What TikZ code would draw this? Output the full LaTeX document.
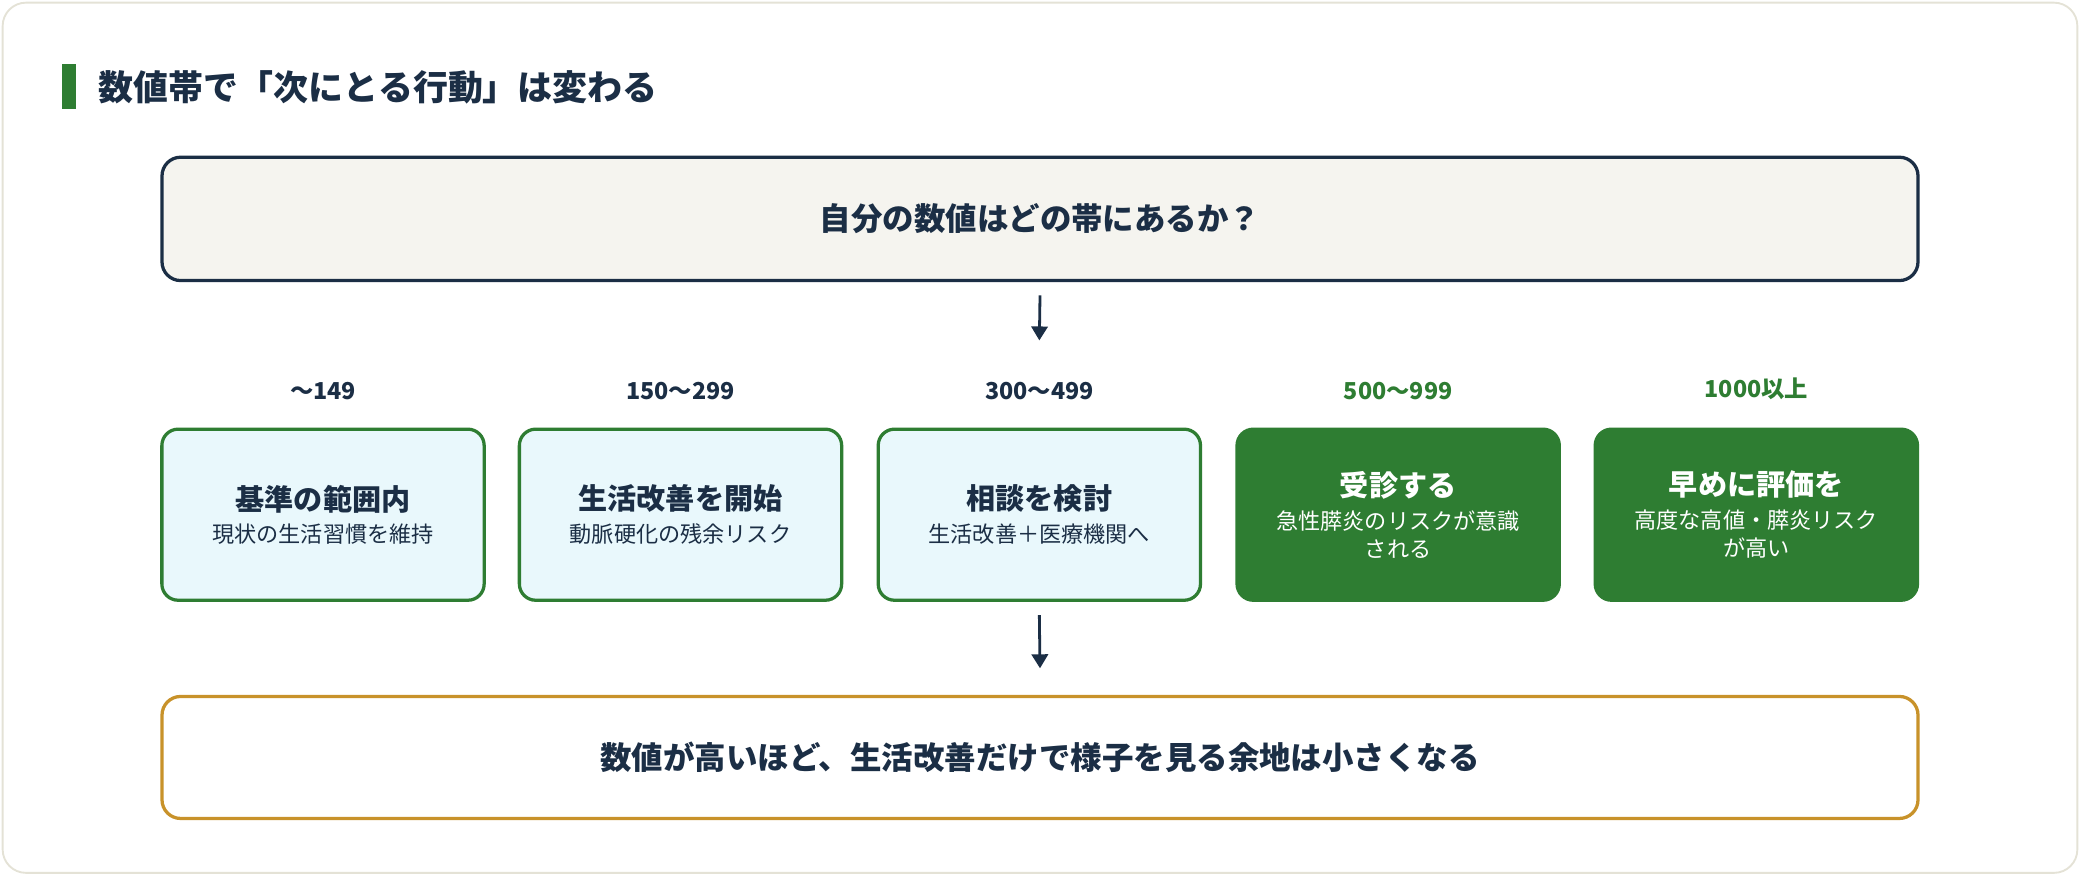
\documentclass[tikz,border=0pt]{standalone}
\usepackage{fontspec}
\setmainfont{Noto Sans CJK JP}
\usetikzlibrary{positioning, arrows.meta}
\definecolor{navy}{HTML}{1B2E45}
\definecolor{leaf}{HTML}{2E7D32}
\definecolor{ice}{HTML}{E9F8FC}
\definecolor{paper}{HTML}{F5F4EF}
\definecolor{gold}{HTML}{C8922A}
\definecolor{rim}{HTML}{E4E2D6}
\begin{document}
\begin{tikzpicture}[
    x=0.02cm, y=-0.02cm,
    band/.style={rectangle, draw=leaf, line width=1.4pt, fill=ice, rounded corners=7pt, minimum width=4.86cm, minimum height=2.58cm, text=navy, align=center, inner sep=2pt},
    alert/.style={band, fill=leaf, text=white},
    span/.style={font=\fontsize{10}{12}\selectfont\bfseries, text=navy},
    arrow/.style={-{Triangle[length=6pt,width=7pt]}, draw=navy, line width=1.2pt}
]
\useasboundingbox (0,0) rectangle (1568,660);
\draw[rim, line width=0.8pt, rounded corners=10pt, fill=white] (2,2) rectangle (1566,658);

% title
\fill[leaf] (47,48) rectangle (57,82);
\node[anchor=west, text=navy, font=\fontsize{15}{18}\selectfont\bfseries] (title) at (68,66) {数値帯で「次にとる行動」は変わる};

% question
\node[draw=navy, line width=1.4pt, fill=paper, rounded corners=8pt, minimum width=26.48cm, minimum height=1.86cm, text=navy, font=\fontsize{13.5}{16}\selectfont\bfseries] (ask) at (784,165) {自分の数値はどの帯にあるか？};

% bands
\node[band] (b1) at (243.5,388) {{\fontsize{12.5}{15}\selectfont\bfseries 基準の範囲内}\\[2pt]{\fontsize{9.5}{14}\selectfont 現状の生活習慣を維持}};
\node[band] (b2) at (513,388) {{\fontsize{12.5}{15}\selectfont\bfseries 生活改善を開始}\\[2pt]{\fontsize{9.5}{14}\selectfont 動脈硬化の残余リスク}};
\node[band] (b3) at (783.5,388) {{\fontsize{12.5}{15}\selectfont\bfseries 相談を検討}\\[2pt]{\fontsize{9.5}{14}\selectfont 生活改善＋医療機関へ}};
\node[alert] (b4) at (1054,388) {{\fontsize{12.5}{15}\selectfont\bfseries 受診する}\\[2pt]{\fontsize{9.5}{14}\selectfont 急性膵炎のリスクが意識}\\{\fontsize{9.5}{14}\selectfont される}};
\node[alert] (b5) at (1324,388) {{\fontsize{12.5}{15}\selectfont\bfseries 早めに評価を}\\[2pt]{\fontsize{9.5}{14}\selectfont 高度な高値・膵炎リスク}\\{\fontsize{9.5}{14}\selectfont が高い}};

% ranges
\node[span, above=0.3cm of b1] (r1) {～149};
\node[span, above=0.3cm of b2] (r2) {150～299};
\node[span, above=0.3cm of b3] (r3) {300～499};
\node[span, text=leaf, above=0.3cm of b4] (r4) {500～999};
\node[span, text=leaf, above=0.3cm of b5] (r5) {1000以上};

% summary
\node[draw=gold, line width=1.4pt, fill=white, rounded corners=8pt, minimum width=26.48cm, minimum height=1.84cm, text=navy, font=\fontsize{13.5}{16}\selectfont\bfseries] (sum) at (784,571) {数値が高いほど、生活改善だけで様子を見る余地は小さくなる};

\draw[arrow] ([yshift=-0.2cm]ask.south) -- ([yshift=0.5cm]r3.north);
\draw[arrow] ([yshift=-0.2cm]b3.south) -- ([yshift=0.4cm]sum.north);
\end{tikzpicture}
\end{document}
